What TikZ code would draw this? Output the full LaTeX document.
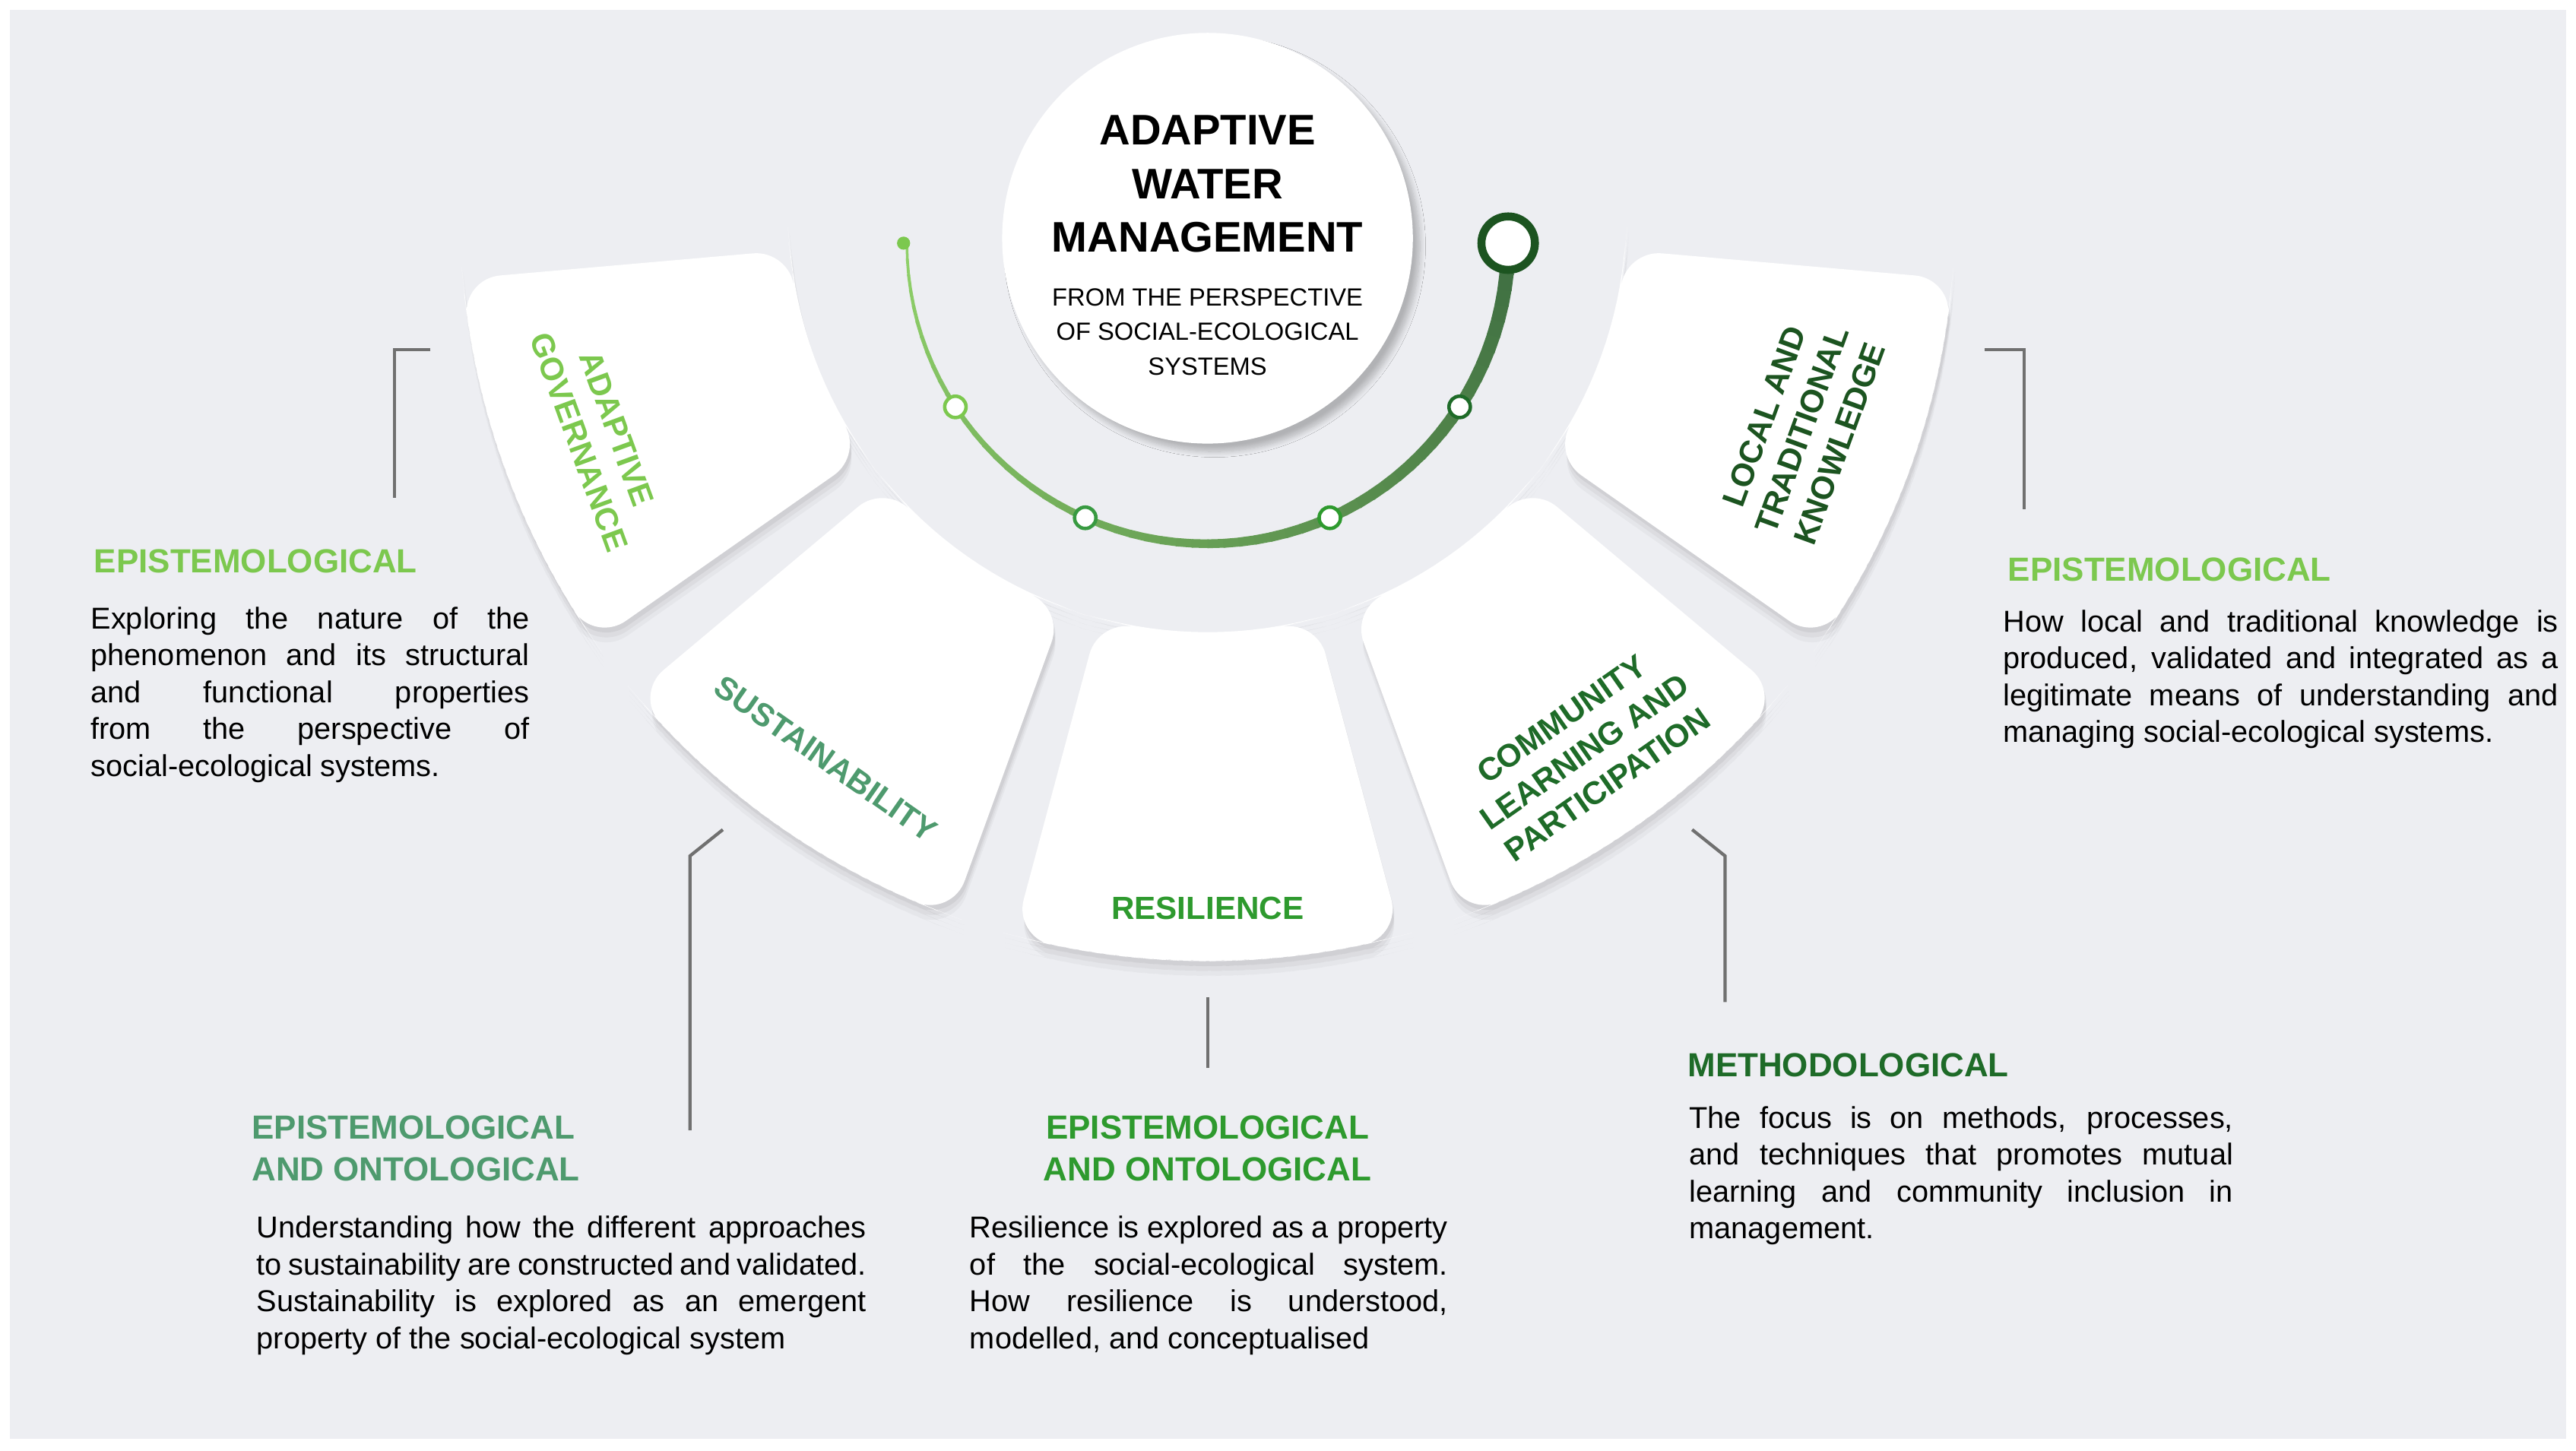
\documentclass[tikz,border=0pt]{standalone}
\usepackage{fontspec}
\setmainfont{Liberation Sans}
\usetikzlibrary{shadows.blur}
\definecolor{bg}{HTML}{EDEEF2}
\definecolor{cA}{HTML}{7CC84E}
\definecolor{cS}{HTML}{4E9A6E}
\definecolor{cR}{HTML}{2E9A2E}
\definecolor{cC}{HTML}{1E6B28}
\definecolor{cL}{HTML}{1C5420}
\definecolor{lnk}{HTML}{707070}
\newcommand\nohyph{\hyphenpenalty=10000 \exhyphenpenalty=10000 \relax}
\newcommand\segpath[1]{plot[domain=#1-15:#1+15,samples=16] ({735+455*cos(\x)},{130+455*sin(\x)}) -- plot[domain=#1+15:#1-15,samples=16] ({735+255*cos(\x)},{130+255*sin(\x)}) -- cycle}
\tikzset{
 seg/.style={fill=white,rounded corners=14pt},
 segsh/.style={fill=black,rounded corners=14pt},
 segtxt/.style={font=\bfseries\fontsize{12}{15}\selectfont,align=center},
 head/.style={font=\bfseries\fontsize{12.5}{15.5}\selectfont,anchor=north west,align=left,inner sep=0},
 body/.style={font=\fontsize{11.3}{13.8}\selectfont\nohyph,anchor=north west,align=justify,inner sep=0},
 link/.style={draw=lnk,line width=1.2pt},
 dot/.style={circle,fill=white,draw=#1,line width=1.3pt,inner sep=0,minimum size=8pt}
}
\begin{document}
\begin{tikzpicture}[x=0.021614cm,y=-0.021614cm]
\useasboundingbox (0,0) rectangle (1568,883);
\fill[white] (0,0) rectangle (1568,883);
\fill[bg] (6,6) rectangle (1562,876);
% segments
\foreach \c in {160,125,90,55,20}{
 \foreach \s/\o in {9/0.03,6/0.04,3/0.05}{
  \path[segsh,opacity=\o,shift={(1,\s)}] \segpath{\c};
 }
 \path[seg] \segpath{\c};
}
\node[segtxt,text=cA,rotate=-70] (tA) at ($(735,130)+(160:395)$) {ADAPTIVE\\GOVERNANCE};
\node[segtxt,text=cS,rotate=-35] (tS) at ($(735,130)+(125:405)$) {SUSTAINABILITY};
\node[segtxt,text=cR] (tR) at ($(735,130)+(90:423)$) {RESILIENCE};
\node[segtxt,text=cC,rotate=35] (tC) at ($(735,130)+(55:400)$) {COMMUNITY\\LEARNING AND\\PARTICIPATION};
\node[segtxt,text=cL,rotate=70] (tL) at ($(735,130)+(20:385)$) {LOCAL AND\\TRADITIONAL\\KNOWLEDGE};
% center circle
\node[circle,fill=white,minimum size=250*0.021614cm,inner sep=0,blur shadow={shadow blur steps=10,shadow yshift=-3pt,shadow opacity=25}] (ctr) at (735,145) {};
\node[font=\bfseries\fontsize{16}{20}\selectfont,align=center] (t1) at (735,112) {ADAPTIVE\\WATER\\MANAGEMENT};
\node[font=\fontsize{9.3}{13}\selectfont,align=center] (t2) at (735,202) {FROM THE PERSPECTIVE\\OF SOCIAL-ECOLOGICAL\\SYSTEMS};
% arc with gradient
\foreach \i in {0,...,59}{
 \pgfmathsetmacro{\aa}{180-3*\i}
 \pgfmathsetmacro{\ab}{180-3*(\i+1)-0.3}
 \pgfmathsetmacro{\pc}{100*\i/59}
 \pgfmathsetmacro{\lw}{1+4.5*\i/59}
 \draw[line width=\lw pt,color=cL!\pc!cA!85!white,line cap=butt] ($(735,148)+(\aa:183)$) -- ($(735,148)+(\ab:183)$);
}
\fill[cA] (550,148) circle[radius=4];
\node[dot=cA] (d1) at ($(735,148)+(147:183)$) {};
\node[dot=cR!70!cS] (d2) at ($(735,148)+(114:183)$) {};
\node[dot=cR] (d3) at ($(735,148)+(66:183)$) {};
\node[dot=cC] (d4) at ($(735,148)+(33:183)$) {};
\node[circle,fill=white,draw=cL,line width=3pt,minimum size=20pt,inner sep=0] (d5) at (918,148) {};
% links
\coordinate (a1) at (262,213); \coordinate (a2) at (240,213); \coordinate (a3) at (240,303);
\draw[link] (a1) -- (a2) -- (a3);
\coordinate (b1) at (1208,213); \coordinate (b2) at (1232,213); \coordinate (b3) at (1232,310);
\draw[link] (b1) -- (b2) -- (b3);
\coordinate (c1) at (440,505); \coordinate (c2) at (420,521); \coordinate (c3) at (420,688);
\draw[link] (c1) -- (c2) -- (c3);
\coordinate (e1) at (735,607); \coordinate (e2) at (735,650);
\draw[link] (e1) -- (e2);
\coordinate (f1) at (1030,505); \coordinate (f2) at (1050,521); \coordinate (f3) at (1050,610);
\draw[link] (f1) -- (f2) -- (f3);
% headings and texts
\node[head,text=cA] (h1) at (57,334) {EPISTEMOLOGICAL};
\node[body,text width=267*0.021614cm] (b1t) at (55,369) {Exploring the nature of the phenomenon and its structural and functional properties from the perspective of social-ecological systems.};
\node[head,text=cA] (h2) at (1222,339) {EPISTEMOLOGICAL};
\node[body,text width=338*0.021614cm] (b2t) at (1219,371) {How local and traditional knowledge is produced, validated and integrated as a legitimate means of understanding and managing social-ecological systems.};
\node[head,text=cS] (h3) at (153,679) {EPISTEMOLOGICAL\\AND ONTOLOGICAL};
\node[body,text width=371*0.021614cm] (b3t) at (156,740) {Understanding how the different approaches to sustainability are constructed and validated. Sustainability is explored as an emergent property of the social-ecological system};
\node[head,text=cR,anchor=north,align=center] (h4) at (735,679) {EPISTEMOLOGICAL\\AND ONTOLOGICAL};
\node[body,text width=291*0.021614cm] (b4t) at (590,740) {Resilience is explored as a property of the social-ecological system. How resilience is understood, modelled, and conceptualised};
\node[head,text=cC] (h5) at (1027,641) {METHODOLOGICAL};
\node[body,text width=331*0.021614cm] (b5t) at (1028,673) {The focus is on methods, processes, and techniques that promotes mutual learning and community inclusion in management.};
\end{tikzpicture}
\end{document}
